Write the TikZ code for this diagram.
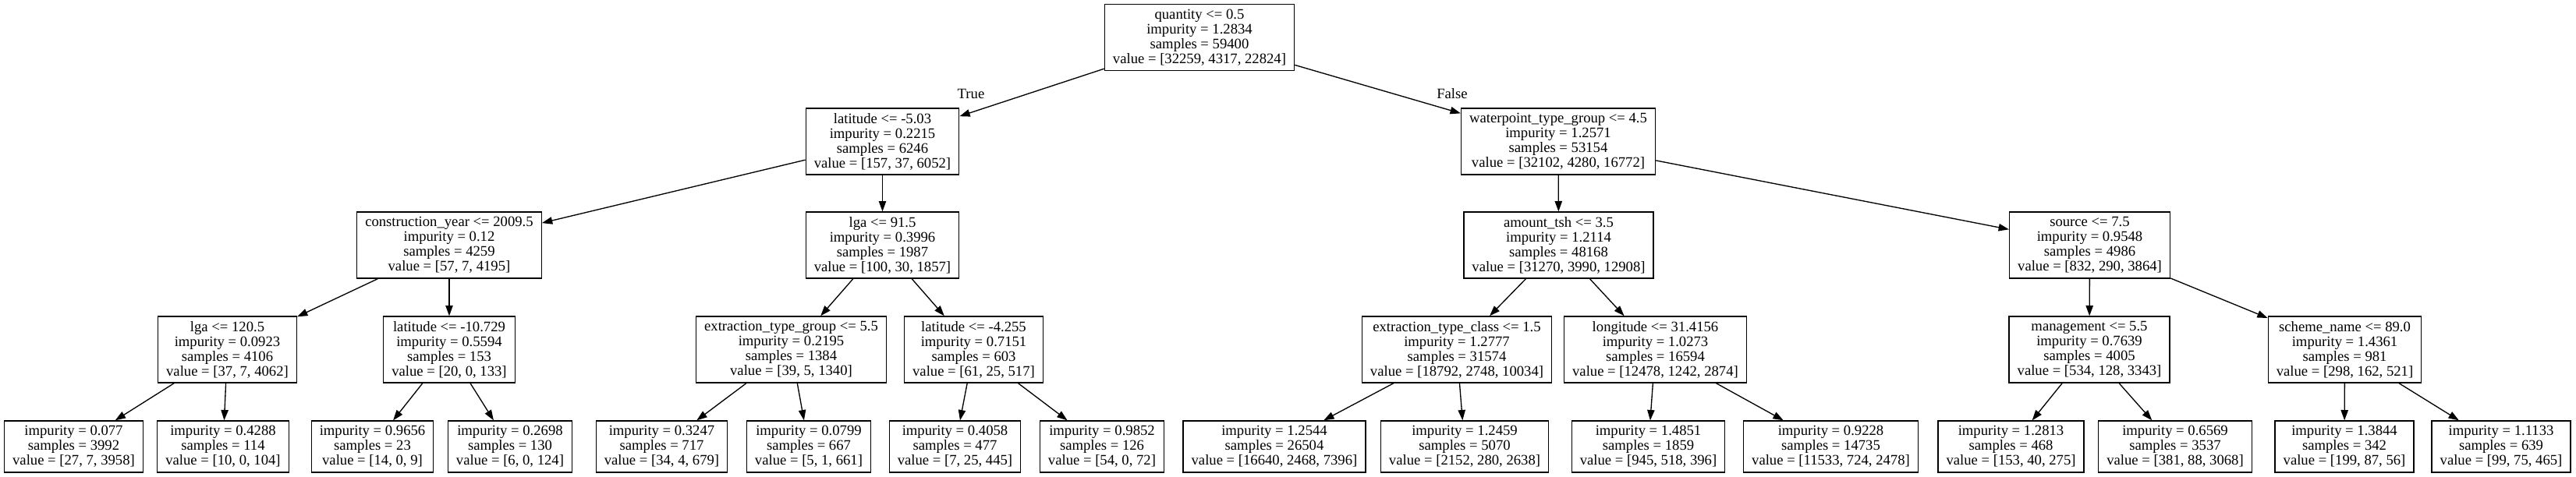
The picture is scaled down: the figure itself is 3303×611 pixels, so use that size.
\documentclass[tikz,border=0pt]{standalone}
\usepackage{fontspec}
\setmainfont{Liberation Serif}
\usetikzlibrary{arrows.meta}
\begin{document}
\begin{tikzpicture}[x=0.75pt,y=-0.75pt,
  txt/.style={font=\fontsize{14pt}{14.25pt}\selectfont},
  box/.style={txt, draw, line width=1pt, inner xsep=7.9pt, inner ysep=0pt, align=center, minimum height=63.75pt},
  leaf/.style={box, minimum height=49.5pt},
  edge/.style={-{Triangle[length=10pt,width=7pt]}, line width=1pt},
  lbl/.style={txt, inner sep=0pt}]
\fill[white] (0,0) rectangle (3303,611);
\useasboundingbox (0,0) rectangle (3303,611);
% level 0
\node[box] (root) at (1538,48) {quantity <= 0.5\\impurity = 1.2834\\samples = 59400\\value = [32259, 4317, 22824]};
% level 1
\node[box] (n1) at (1131.5,181.5) {latitude <= -5.03\\impurity = 0.2215\\samples = 6246\\value = [157, 37, 6052]};
\node[box] (n2) at (1998,181.5) {waterpoint\_type\_group <= 4.5\\impurity = 1.2571\\samples = 53154\\value = [32102, 4280, 16772]};
% level 2
\node[box] (n3) at (576,314.5) {construction\_year <= 2009.5\\impurity = 0.12\\samples = 4259\\value = [57, 7, 4195]};
\node[box] (n4) at (1131.5,314.5) {lga <= 91.5\\impurity = 0.3996\\samples = 1987\\value = [100, 30, 1857]};
\node[box] (n5) at (1998.5,314.5) {amount\_tsh <= 3.5\\impurity = 1.2114\\samples = 48168\\value = [31270, 3990, 12908]};
\node[box] (n6) at (2679.5,314.5) {source <= 7.5\\impurity = 0.9548\\samples = 4986\\value = [832, 290, 3864]};
% level 3
\node[box] (n7) at (291.5,448.5) {lga <= 120.5\\impurity = 0.0923\\samples = 4106\\value = [37, 7, 4062]};
\node[box] (n8) at (576,448.5) {latitude <= -10.729\\impurity = 0.5594\\samples = 153\\value = [20, 0, 133]};
\node[box] (n9) at (1014.5,448.5) {extraction\_type\_group <= 5.5\\impurity = 0.2195\\samples = 1384\\value = [39, 5, 1340]};
\node[box] (n10) at (1248.5,448.5) {latitude <= -4.255\\impurity = 0.7151\\samples = 603\\value = [61, 25, 517]};
\node[box] (n11) at (1868,448.5) {extraction\_type\_class <= 1.5\\impurity = 1.2777\\samples = 31574\\value = [18792, 2748, 10034]};
\node[box] (n12) at (2122.5,448.5) {longitude <= 31.4156\\impurity = 1.0273\\samples = 16594\\value = [12478, 1242, 2874]};
\node[box] (n13) at (2679,448.5) {management <= 5.5\\impurity = 0.7639\\samples = 4005\\value = [534, 128, 3343]};
\node[box] (n14) at (3006.5,448.5) {scheme\_name <= 89.0\\impurity = 1.4361\\samples = 981\\value = [298, 162, 521]};
% level 4 (leaves)
\node[leaf] (l1) at (94.5,573) {impurity = 0.077\\samples = 3992\\value = [27, 7, 3958]};
\node[leaf] (l2) at (286,573) {impurity = 0.4288\\samples = 114\\value = [10, 0, 104]};
\node[leaf] (l3) at (477.5,573) {impurity = 0.9656\\samples = 23\\value = [14, 0, 9]};
\node[leaf] (l4) at (654,573) {impurity = 0.2698\\samples = 130\\value = [6, 0, 124]};
\node[leaf] (l5) at (848.5,573) {impurity = 0.3247\\samples = 717\\value = [34, 4, 679]};
\node[leaf] (l6) at (1037,573) {impurity = 0.0799\\samples = 667\\value = [5, 1, 661]};
\node[leaf] (l7) at (1224.5,573) {impurity = 0.4058\\samples = 477\\value = [7, 25, 445]};
\node[leaf] (l8) at (1413,573) {impurity = 0.9852\\samples = 126\\value = [54, 0, 72]};
\node[leaf] (l9) at (1634,573) {impurity = 1.2544\\samples = 26504\\value = [16640, 2468, 7396]};
\node[leaf] (l10) at (1878,573) {impurity = 1.2459\\samples = 5070\\value = [2152, 280, 2638]};
\node[leaf] (l11) at (2113.5,573) {impurity = 1.4851\\samples = 1859\\value = [945, 518, 396]};
\node[leaf] (l12) at (2347.5,573) {impurity = 0.9228\\samples = 14735\\value = [11533, 724, 2478]};
\node[leaf] (l13) at (2578.5,573) {impurity = 1.2813\\samples = 468\\value = [153, 40, 275]};
\node[leaf] (l14) at (2789,573) {impurity = 0.6569\\samples = 3537\\value = [381, 88, 3068]};
\node[leaf] (l15) at (3006,573) {impurity = 1.3844\\samples = 342\\value = [199, 87, 56]};
\node[leaf] (l16) at (3207,573) {impurity = 1.1133\\samples = 639\\value = [99, 75, 465]};
% edge labels
\node[lbl] (tlab) at (1245,120) {True};
\node[lbl] (flab) at (1862,120) {False};
% edges
\draw[edge] (root) -- (n1);
\draw[edge] (root) -- (n2);
\draw[edge] (n1) -- (n3);
\draw[edge] (n1) -- (n4);
\draw[edge] (n2) -- (n5);
\draw[edge] (n2) -- (n6);
\draw[edge] (n3) -- (n7);
\draw[edge] (n3) -- (n8);
\draw[edge] (n4) -- (n9);
\draw[edge] (n4) -- (n10);
\draw[edge] (n5) -- (n11);
\draw[edge] (n5) -- (n12);
\draw[edge] (n6) -- (n13);
\draw[edge] (n6) -- (n14);
\draw[edge] (n7) -- (l1);
\draw[edge] (n7) -- (l2);
\draw[edge] (n8) -- (l3);
\draw[edge] (n8) -- (l4);
\draw[edge] (n9) -- (l5);
\draw[edge] (n9) -- (l6);
\draw[edge] (n10) -- (l7);
\draw[edge] (n10) -- (l8);
\draw[edge] (n11) -- (l9);
\draw[edge] (n11) -- (l10);
\draw[edge] (n12) -- (l11);
\draw[edge] (n12) -- (l12);
\draw[edge] (n13) -- (l13);
\draw[edge] (n13) -- (l14);
\draw[edge] (n14) -- (l15);
\draw[edge] (n14) -- (l16);
\end{tikzpicture}
\end{document}
